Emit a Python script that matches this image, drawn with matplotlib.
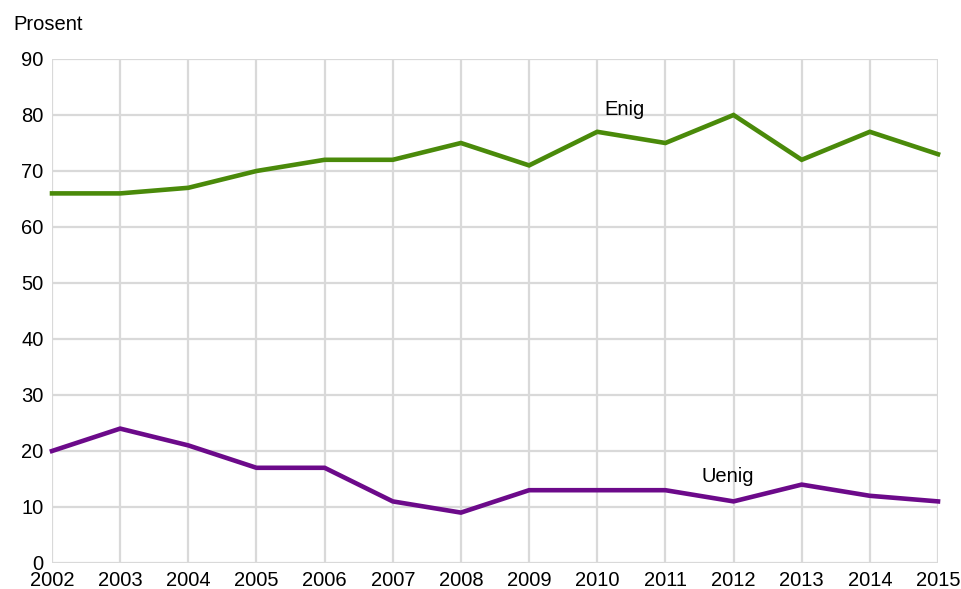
import matplotlib
matplotlib.use("Agg")
import matplotlib.pyplot as plt

years = [2002, 2003, 2004, 2005, 2006, 2007, 2008, 2009, 2010, 2011, 2012, 2013, 2014, 2015]
enig = [66, 66, 67, 70, 72, 72, 75, 71, 77, 75, 80, 72, 77, 73]
uenig = [20, 24, 21, 17, 17, 11, 9, 13, 13, 13, 11, 14, 12, 11]
yticks = [0, 10, 20, 30, 40, 50, 60, 70, 80, 90]

plt.rcParams['font.family'] = ['Liberation Sans', 'DejaVu Sans']

fig = plt.figure(figsize=(9.62, 5.89), dpi=100)
ax = fig.add_axes([52/962, 1-563/589, (938-52)/962, (563-59)/589])

green = '#4a8a0a'
purple = '#6c0a8a'
ax.plot(years, enig, color=green, lw=3.3, solid_joinstyle='miter', zorder=3, clip_on=False)
ax.plot(years, uenig, color=purple, lw=3.3, solid_joinstyle='miter', zorder=3, clip_on=False)

ax.set_xlim(years[0], years[-1])
ax.set_ylim(0, 90)
ax.set_xticks(years)
ax.set_yticks(yticks)
ax.grid(True, color='#d9d9d9', lw=1.6)
ax.set_axisbelow(True)
for s in ax.spines.values():
    s.set_visible(False)
ax.tick_params(length=0, labelsize=14.5, colors='black')
ax.tick_params(axis='x', pad=5.5)
ax.tick_params(axis='y', pad=6)

ax.text(2010.4, 81, 'Enig', fontsize=14.5, ha='center', va='center')
ax.text(2011.92, 15.4, 'Uenig', fontsize=14.5, ha='center', va='center')
fig.text(13/962, 1-24/589, 'Prosent', fontsize=14.5, ha='left', va='center')

fig.savefig('out.png', dpi=100)
